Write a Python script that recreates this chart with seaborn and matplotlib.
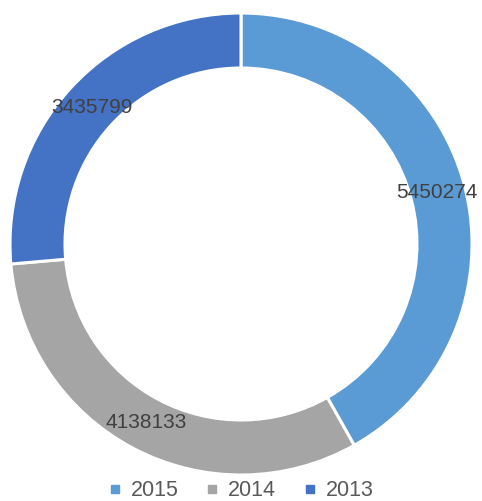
import numpy as np
import matplotlib
matplotlib.use("Agg")
import matplotlib.pyplot as plt
import seaborn as sns
from matplotlib.lines import Line2D

# Data
years = ["2015", "2014", "2013"]
values = [5450274, 4138133, 3435799]
colors = ["#5B9BD5", "#A5A5A5", "#4472C4"]

sns.set_theme(style="white")
plt.rcParams["font.family"] = ["Liberation Sans", "DejaVu Sans"]

W, H = 482, 501
fig = plt.figure(figsize=(W / 100, H / 100), dpi=100)
ax = fig.add_axes([0, 0, 1, 1])

# donut geometry in pixel units
cx, cy, r_out = 241, H - 244, 231
ring = 55 / r_out

wedges, _, autotexts = ax.pie(
    values,
    colors=colors,
    startangle=90,
    counterclock=False,
    center=(cx, cy),
    radius=r_out,
    autopct=lambda p: "{:d}".format(int(round(p * sum(values) / 100))),
    pctdistance=0.875,
    wedgeprops=dict(width=r_out * ring, edgecolor="white", linewidth=2.2),
    textprops=dict(color="#404040", fontsize=15),
)

ax.set_xlim(0, W)
ax.set_ylim(0, H)
ax.set_aspect("equal")
ax.axis("off")

handles = [Line2D([0], [0], marker="s", linestyle="", markersize=6,
                  markerfacecolor=c, markeredgecolor=c) for c in colors]
leg = fig.legend(handles, years, loc="center", bbox_to_anchor=(0.5, 1 - 491 / H),
                 ncol=3, frameon=False, fontsize=15.5, handlelength=0.6,
                 handletextpad=0.45, columnspacing=1.25)
for t in leg.get_texts():
    t.set_color("#595959")

fig.savefig("out.png", dpi=100)
